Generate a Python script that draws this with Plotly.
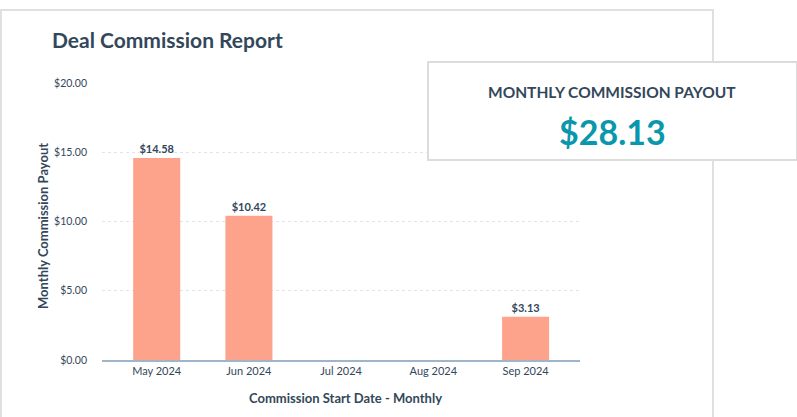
import plotly.graph_objects as go

months = ["May 2024", "Jun 2024", "Jul 2024", "Aug 2024", "Sep 2024"]
payout = [14.58, 10.42, 0, 0, 3.13]
y_ticks = [0, 5, 10, 15, 20]
y_tick_labels = ["$0.00", "$5.00", "$10.00", "$15.00", "$20.00"]
kpi_label = "MONTHLY COMMISSION PAYOUT"
kpi_value = "$28.13"
x_title = "Commission Start Date - Monthly"
y_title = "Monthly Commission Payout"
chart_title = "Deal Commission Report"

W, H = 797, 417
NAVY = "#33475b"
FONT = "Lato"

def px(x):
    return x / W

def py(y):
    return 1 - y / H

labels = [f"${v:.2f}" if v > 0 else "" for v in payout]

fig = go.Figure()
fig.add_trace(go.Bar(
    x=months, y=payout, text=labels, textposition="outside",
    textfont=dict(family=FONT, size=11, color=NAVY, weight="bold"),
    marker=dict(color="#fea38b", line=dict(width=0)),
    width=0.51, cliponaxis=False, hoverinfo="skip",
))

fig.update_layout(
    width=W, height=H, autosize=False, margin=dict(l=0, r=0, t=0, b=0, pad=0),
    paper_bgcolor="white", plot_bgcolor="white", showlegend=False,
    font=dict(family=FONT, color=NAVY),
    xaxis=dict(domain=[px(102), px(580)], range=[-0.593, 4.59], automargin=False,
               showgrid=False, showline=True, linecolor="#9fb5c9", linewidth=1.5,
               ticks="", tickfont=dict(size=11, color=NAVY)),
    yaxis=dict(domain=[py(360), py(83)], range=[0, 20], automargin=False,
               tickvals=y_ticks, ticktext=y_tick_labels,
               showgrid=True, gridcolor="#dfe5ee", griddash="dot", gridwidth=1,
               zeroline=False, ticks="", ticklabelstandoff=14,
               tickfont=dict(size=10.5, color=NAVY)),
    shapes=[
        dict(type="rect", xref="paper", yref="paper",
             x0=px(1), x1=px(713), y0=py(420), y1=py(10),
             line=dict(color="#e0e0e0", width=2), fillcolor="rgba(0,0,0,0)",
             layer="below"),
        dict(type="rect", xref="paper", yref="paper",
             x0=px(428), x1=px(797), y0=py(160), y1=py(62),
             line=dict(color="#dcdcdc", width=2), fillcolor="white",
             layer="above"),
    ],
    annotations=[
        dict(text=f"<b>{chart_title}</b>", xref="paper", yref="paper",
             x=px(50), y=py(40), xanchor="left", yanchor="middle", showarrow=False,
             font=dict(family=FONT, size=21, color=NAVY)),
        dict(text=f"<b>{x_title}</b>", xref="paper", yref="paper",
             x=px(345), y=py(398), xanchor="center", yanchor="middle", showarrow=False,
             font=dict(family=FONT, size=13, color=NAVY)),
        dict(text=f"<b>{y_title}</b>", xref="paper", yref="paper", textangle=-90,
             x=px(43), y=py(226), xanchor="center", yanchor="middle", showarrow=False,
             font=dict(family=FONT, size=13, color=NAVY)),
        dict(text=kpi_label, xref="paper", yref="paper",
             x=px(612), y=py(92), xanchor="center", yanchor="middle", showarrow=False,
             font=dict(family=FONT, size=15.5, color=NAVY, weight="bold")),
        dict(text=f"<b>{kpi_value}</b>", xref="paper", yref="paper",
             x=px(612), y=py(131), xanchor="center", yanchor="middle", showarrow=False,
             font=dict(family=FONT, size=34, color="#0a97ad")),
    ],
)

fig.write_html("out.html")
